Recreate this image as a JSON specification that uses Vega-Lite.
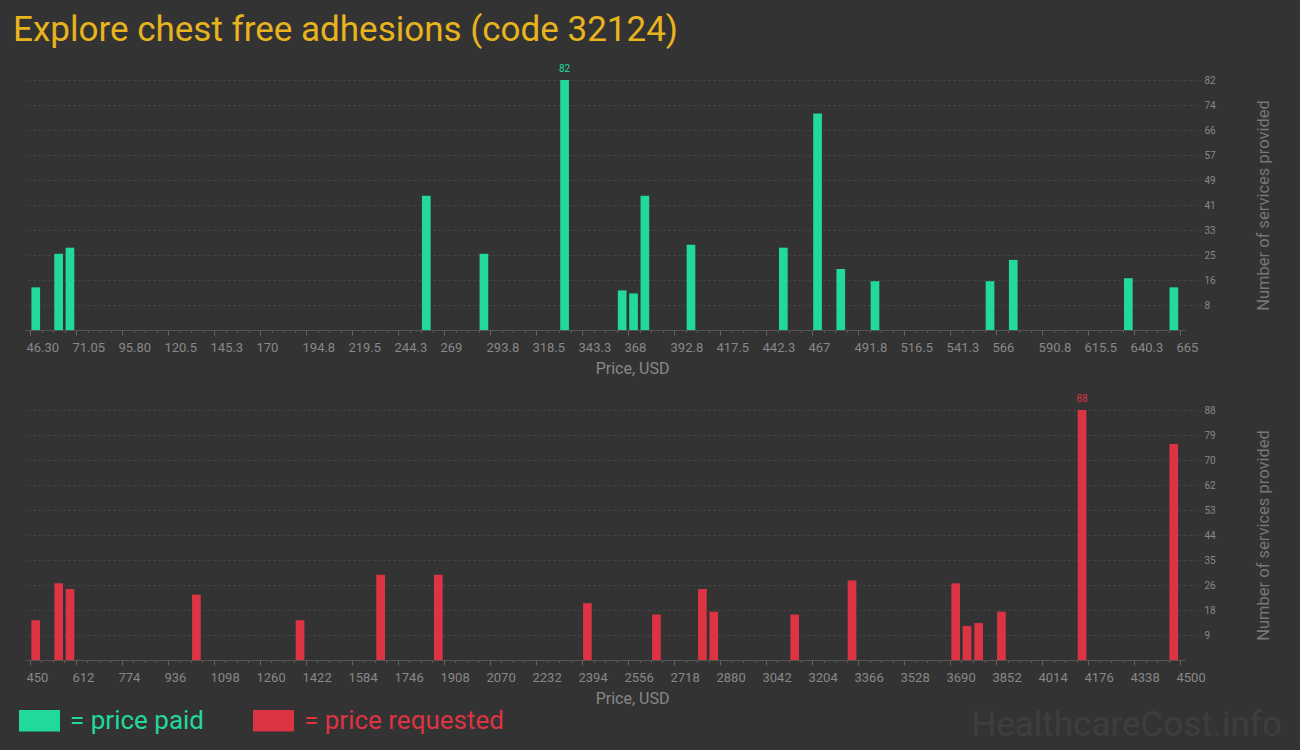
{
  "$schema": "https://vega.github.io/schema/vega-lite/v6.json",
  "background": "#333333",
  "padding": {"left": 13, "top": 13, "right": 18, "bottom": 8},
  "title": {
    "text": "Explore chest free adhesions (code 32124)",
    "anchor": "start",
    "frame": "group",
    "fontSize": 35,
    "fontWeight": "normal",
    "font": "Roboto",
    "color": "#e8b41e",
    "dx": -12,
    "offset": 16
  },
  "datasets": {
    "paid": [
      {"price": 49.4, "count": 14},
      {"price": 61.7, "count": 25},
      {"price": 67.8, "count": 27},
      {"price": 259.5, "count": 44},
      {"price": 290.5, "count": 25},
      {"price": 333.9, "count": 82},
      {"price": 364.9, "count": 13},
      {"price": 371.0, "count": 12},
      {"price": 377.1, "count": 44},
      {"price": 401.9, "count": 28},
      {"price": 451.6, "count": 27},
      {"price": 470.0, "count": 71},
      {"price": 482.5, "count": 20},
      {"price": 500.9, "count": 16},
      {"price": 562.8, "count": 16},
      {"price": 575.3, "count": 23},
      {"price": 637.2, "count": 17},
      {"price": 661.7, "count": 14}
    ],
    "requested": [
      {"price": 470, "count": 14},
      {"price": 551, "count": 27},
      {"price": 591, "count": 25},
      {"price": 1036, "count": 23},
      {"price": 1401, "count": 14},
      {"price": 1685, "count": 30},
      {"price": 1888, "count": 30},
      {"price": 2413, "count": 20},
      {"price": 2656, "count": 16},
      {"price": 2818, "count": 25},
      {"price": 2858, "count": 17},
      {"price": 3143, "count": 16},
      {"price": 3345, "count": 28},
      {"price": 3710, "count": 27},
      {"price": 3750, "count": 12},
      {"price": 3791, "count": 13},
      {"price": 3871, "count": 17},
      {"price": 4155, "count": 88},
      {"price": 4478, "count": 76}
    ]
  },
  "vconcat": [
    {
      "width": 1160,
      "height": 250,
      "data": {"name": "paid"},
      "resolve": {"axis": {"x": "independent"}},
      "layer": [
        {
          "mark": {"type": "bar", "width": 8.7},
          "encoding": {
            "x": {
              "field": "price", "type": "quantitative",
              "scale": {"domain": [46.3, 665], "nice": false, "zero": false},
              "axis": {
                "title": "Price, USD",
                "values": [46.3, 71.05, 95.8, 120.5, 145.3, 170, 194.8, 219.5, 244.3, 269, 293.8, 318.5, 343.3, 368, 392.8, 417.5, 442.3, 467, 491.8, 516.5, 541.3, 566, 590.8, 615.5, 640.3, 665],
                "labelExpr": "datum.value < 100 ? format(datum.value, '.2f') : format(datum.value, '~f')"
              }
            },
            "y": {
              "field": "count", "type": "quantitative",
              "scale": {"domain": [0, 82], "nice": false},
              "axis": {
                "title": "Number of services provided",
                "values": [8.2, 16.4, 24.6, 32.8, 41, 49.2, 57.4, 65.6, 73.8, 82],
                "tickCount": 20,
                "format": ".0f"
              }
            },
            "color": {
              "datum": "price paid", "type": "nominal",
              "scale": {"domain": ["price paid", "price requested"], "range": ["#21d99b", "#dc3443"]},
              "legend": {
                "title": null,
                "orient": "none",
                "legendX": -6,
                "legendY": 620,
                "direction": "horizontal",
                "labelExpr": "'= ' + datum.label",
                "encode": {"labels": {"update": {"fill": {"signal": "datum.value === 'price paid' ? '#21d99b' : '#dc3443'"}}}}
              }
            }
          }
        },
        {
          "transform": [{"filter": "datum.count == 82"}],
          "mark": {"type": "text", "dy": -8, "baseline": "alphabetic", "fontSize": 10, "color": "#21d99b"},
          "encoding": {
            "x": {
              "field": "price", "type": "quantitative",
              "axis": {
                "orient": "bottom", "title": null, "labels": false, "domain": false,
                "tickSize": 2.5, "tickColor": "#5a5a5a", "tickCount": 200,
                "values": [52.4875, 58.675, 64.8625, 77.2375, 83.425, 89.6125, 101.9875, 108.175, 114.3625, 126.7375, 132.925, 139.1125, 151.4875, 157.675, 163.8625, 176.2375, 182.425, 188.6125, 200.9875, 207.175, 213.3625, 225.7375, 231.925, 238.1125, 250.4875, 256.675, 262.8625, 275.2375, 281.425, 287.6125, 299.9875, 306.175, 312.3625, 324.7375, 330.925, 337.1125, 349.4875, 355.675, 361.8625, 374.2375, 380.425, 386.6125, 398.9875, 405.175, 411.3625, 423.7375, 429.925, 436.1125, 448.4875, 454.675, 460.8625, 473.2375, 479.425, 485.6125, 497.9875, 504.175, 510.3625, 522.7375, 528.925, 535.1125, 547.4875, 553.675, 559.8625, 572.2375, 578.425, 584.6125, 596.9875, 603.175, 609.3625, 621.7375, 627.925, 634.1125, 646.4875, 652.675, 658.8625]
              }
            },
            "y": {"field": "count", "type": "quantitative"},
            "text": {"field": "count"}
          }
        }
      ]
    },
    {
      "width": 1160,
      "height": 250,
      "data": {"name": "requested"},
      "resolve": {"axis": {"x": "independent"}},
      "title": {
        "text": "HealthcareCost.info",
        "orient": "bottom",
        "anchor": "end",
        "frame": "group",
        "fontSize": 35,
        "fontWeight": "normal",
        "font": "Roboto",
        "color": "#3e3e3e",
        "dx": 97,
        "offset": 2
      },
      "layer": [
        {
          "mark": {"type": "bar", "width": 8.7},
          "encoding": {
            "x": {
              "field": "price", "type": "quantitative",
              "scale": {"domain": [450, 4500], "nice": false, "zero": false},
              "axis": {
                "title": "Price, USD",
                "values": [450, 612, 774, 936, 1098, 1260, 1422, 1584, 1746, 1908, 2070, 2232, 2394, 2556, 2718, 2880, 3042, 3204, 3366, 3528, 3690, 3852, 4014, 4176, 4338, 4500],
                "format": "d"
              }
            },
            "y": {
              "field": "count", "type": "quantitative",
              "scale": {"domain": [0, 88], "nice": false},
              "axis": {
                "title": "Number of services provided",
                "values": [8.8, 17.6, 26.4, 35.2, 44, 52.8, 61.6, 70.4, 79.2, 88],
                "tickCount": 20,
                "format": ".0f"
              }
            },
            "color": {
              "datum": "price requested", "type": "nominal",
              "scale": {"domain": ["price paid", "price requested"], "range": ["#21d99b", "#dc3443"]},
              "legend": {
                "title": null,
                "orient": "none",
                "legendX": -6,
                "legendY": 620,
                "direction": "horizontal",
                "labelExpr": "'= ' + datum.label",
                "encode": {"labels": {"update": {"fill": {"signal": "datum.value === 'price paid' ? '#21d99b' : '#dc3443'"}}}}
              }
            }
          }
        },
        {
          "transform": [{"filter": "datum.count == 88"}],
          "mark": {"type": "text", "dy": -8, "baseline": "alphabetic", "fontSize": 10, "color": "#dc3443"},
          "encoding": {
            "x": {
              "field": "price", "type": "quantitative",
              "axis": {
                "orient": "bottom", "title": null, "labels": false, "domain": false,
                "tickSize": 2.5, "tickColor": "#5a5a5a", "tickCount": 200,
                "values": [490.5, 531, 571.5, 652.5, 693, 733.5, 814.5, 855, 895.5, 976.5, 1017, 1057.5, 1138.5, 1179, 1219.5, 1300.5, 1341, 1381.5, 1462.5, 1503, 1543.5, 1624.5, 1665, 1705.5, 1786.5, 1827, 1867.5, 1948.5, 1989, 2029.5, 2110.5, 2151, 2191.5, 2272.5, 2313, 2353.5, 2434.5, 2475, 2515.5, 2596.5, 2637, 2677.5, 2758.5, 2799, 2839.5, 2920.5, 2961, 3001.5, 3082.5, 3123, 3163.5, 3244.5, 3285, 3325.5, 3406.5, 3447, 3487.5, 3568.5, 3609, 3649.5, 3730.5, 3771, 3811.5, 3892.5, 3933, 3973.5, 4054.5, 4095, 4135.5, 4216.5, 4257, 4297.5, 4378.5, 4419, 4459.5]
              }
            },
            "y": {"field": "count", "type": "quantitative"},
            "text": {"field": "count"}
          }
        }
      ]
    }
  ],
  "spacing": 18,
  "resolve": {"scale": {"color": "shared"}},
  "config": {
    "font": "Roboto",
    "view": {"stroke": null},
    "axisX": {
      "orient": "bottom",
      "grid": false,
      "domainColor": "#555555",
      "tickColor": "#666666",
      "tickSize": 5,
      "labelColor": "#888888",
      "labelFontSize": 13,
      "labelAlign": "left",
      "labelOffset": -4,
      "labelPadding": 6,
      "labelFlush": false,
      "labelOverlap": false,
      "titleColor": "#888888",
      "titleFontSize": 16,
      "titleFontWeight": "normal",
      "titlePadding": 6,
      "titleX": 607,
      "titleAlign": "center"
    },
    "axisY": {
      "orient": "right",
      "grid": true,
      "gridColor": "#4a4a4a",
      "gridDash": [2, 3],
      "ticks": true,
      "tickSize": 16,
      "tickColor": "#4a4a4a",
      "tickDash": [2, 3],
      "domain": false,
      "labelColor": "#888888",
      "labelFontSize": 10,
      "labelPadding": 3,
      "labelOverlap": false,
      "titleColor": "#777777",
      "titleFontSize": 16.5,
      "titleFontWeight": "normal",
      "titleAngle": 270,
      "titleBaseline": "top",
      "titlePadding": 40
    },
    "legend": {
      "symbolType": "M-1,-0.52L1,-0.52L1,0.52L-1,0.52Z",
      "symbolSize": 1681,
      "symbolStrokeWidth": 0,
      "symbolOpacity": 1,
      "labelFontSize": 26,
      "labelOffset": 10,
      "labelLimit": 400,
      "columnPadding": 48
    }
  }
}
